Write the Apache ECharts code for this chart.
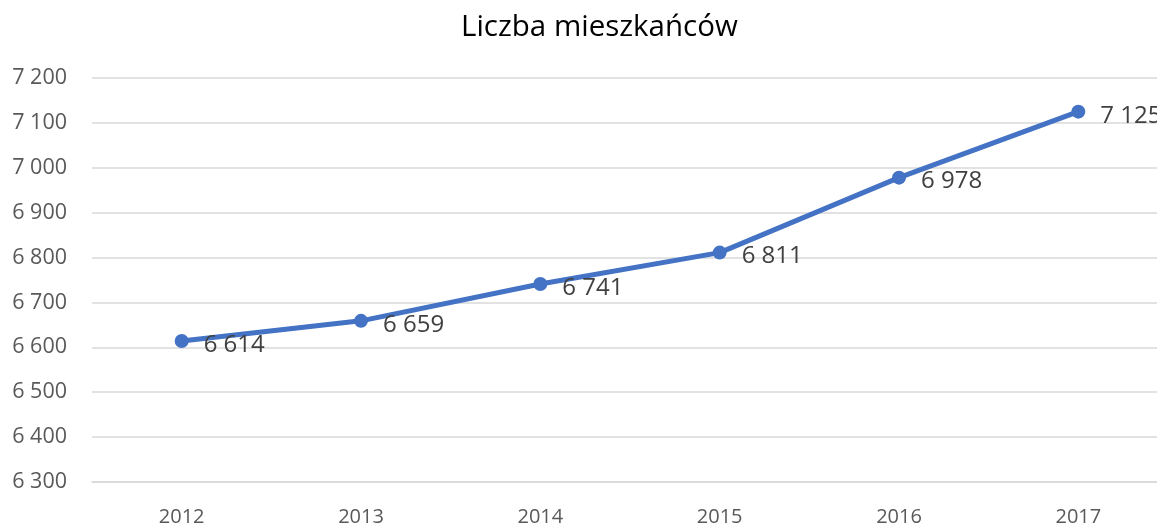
<!DOCTYPE html>
<html>
<head>
<meta charset="utf-8">
<script src="https://cdn.jsdelivr.net/npm/echarts@6/dist/echarts.min.js"></script>
<style>
  html, body { margin: 0; padding: 0; background: #fff; }
  #chart { width: 1157px; height: 526px; }
</style>
</head>
<body>
<div id="chart"></div>
<script>
// dane
const years = ['2012', '2013', '2014', '2015', '2016', '2017'];
const residents = [6614, 6659, 6741, 6811, 6978, 7125];

// 7125 -> "7 125"
const fmt = v => String(v).replace(/\B(?=(\d{3})+(?!\d))/g, ' ');

const chart = echarts.init(document.getElementById('chart'));

chart.setOption({
    animation: false,
    title: {
        text: 'Liczba mieszkańców',
        left: 456,
        top: 8,
        textStyle: {
            fontFamily: 'Open Sans',
            fontSize: 29.5,
            fontWeight: 'normal',
            color: '#000'
        }
    },
    grid: {
        left: 92,
        right: -11,
        top: 78,
        bottom: 44,
        outerBoundsMode: 'none',
        containLabel: false
    },
    xAxis: {
        type: 'category',
        data: years,
        boundaryGap: true,
        axisLine: { show: true, lineStyle: { color: '#d9d9d9', width: 1.5 } },
        axisTick: { show: false },
        axisLabel: {
            margin: 25,
            fontFamily: 'Open Sans',
            fontSize: 20,
            color: '#595959'
        }
    },
    yAxis: {
        type: 'value',
        min: 6300,
        max: 7200,
        interval: 100,
        axisLine: { show: false },
        axisTick: { show: false },
        axisLabel: {
            margin: 25,
            fontFamily: 'Open Sans',
            fontSize: 21.5,
            color: '#595959',
            formatter: fmt
        },
        splitLine: { lineStyle: { color: '#d9d9d9', width: 1.5 } }
    },
    series: [{
        type: 'line',
        data: residents,
        symbol: 'circle',
        symbolSize: 14,
        lineStyle: { color: '#4472c4', width: 5 },
        itemStyle: { color: '#4472c4' },
        label: {
            show: true,
            position: 'right',
            distance: 15,
            offset: [0, 4],
            fontFamily: 'Open Sans',
            fontSize: 24,
            color: '#404040',
            formatter: p => fmt(p.value)
        }
    }]
});
</script>
</body>
</html>
